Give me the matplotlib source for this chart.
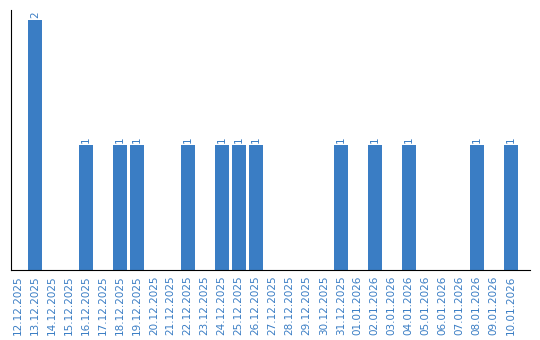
import matplotlib
matplotlib.use("Agg")
import matplotlib.pyplot as plt
import numpy as np

# daily counts
dates = ["12.12.2025", "13.12.2025", "14.12.2025", "15.12.2025", "16.12.2025",
         "17.12.2025", "18.12.2025", "19.12.2025", "20.12.2025", "21.12.2025",
         "22.12.2025", "23.12.2025", "24.12.2025", "25.12.2025", "26.12.2025",
         "27.12.2025", "28.12.2025", "29.12.2025", "30.12.2025", "31.12.2025",
         "01.01.2026", "02.01.2026", "03.01.2026", "04.01.2026", "05.01.2026",
         "06.01.2026", "07.01.2026", "08.01.2026", "09.01.2026", "10.01.2026"]
counts = [0, 2, 0, 0, 1, 0, 1, 1, 0, 0,
          1, 0, 1, 1, 1, 0, 0, 0, 0, 1,
          0, 1, 0, 1, 0, 0, 0, 1, 0, 1]

BLUE = "#3a7dc4"

fig = plt.figure(figsize=(5.4, 3.4), dpi=100)
ax = fig.add_axes([0.02, 0.206, 0.961, 0.764])

x = np.arange(len(dates))
bars = ax.bar(x, counts, width=0.82, color=BLUE)

for xi, c in zip(x, counts):
    if c > 0:
        ax.text(xi, c + 0.02, str(c), rotation=90, ha="center", va="bottom",
                color=BLUE, fontsize=7.5)

ax.set_xlim(-0.41, len(dates) + 0.12)
ax.set_ylim(0, 2.08)
ax.set_xticks(x)
ax.set_xticklabels(dates, rotation=90, color=BLUE, fontsize=7.5)
ax.tick_params(axis="x", length=0, pad=4)
ax.set_yticks([])
ax.spines["top"].set_visible(False)
ax.spines["right"].set_visible(False)

fig.savefig("out.png", dpi=100)
